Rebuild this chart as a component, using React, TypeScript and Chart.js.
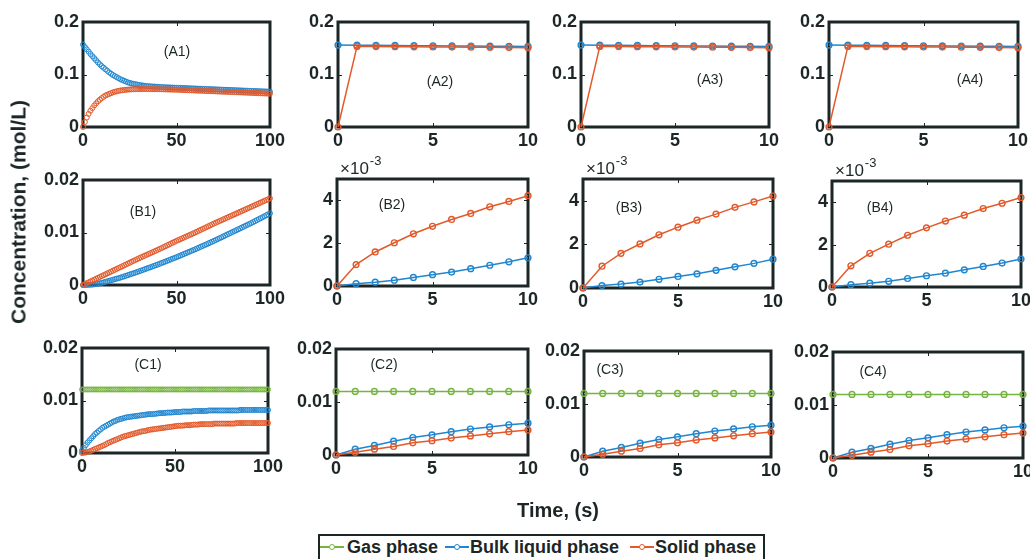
import React, { useEffect, useRef } from "react";
import { Chart, registerables } from "chart.js";
Chart.register(...registerables);

const BLUE = "#1f86cf";
const ORANGE = "#e2592a";
const GREEN = "#77b341";
const INK = "#1c2626";
const FONT = "'Liberation Sans', Arial, sans-serif";

// x values (time, s)
const T_LONG = Array.from({ length: 101 }, (_, i) => i);
const T_SHORT = [0, 1, 2, 3, 4, 5, 6, 7, 8, 9, 10];

// Row A (0-100 s)
const A1_bulk = [
  0.157,0.1525,0.148,0.1435,0.139,0.135,0.131,0.127,0.123,0.1195,0.116,
  0.113,0.110,0.107,0.104,0.1015,0.099,0.097,0.095,0.093,0.091,
  0.0895,0.088,0.0865,0.085,0.084,0.083,0.0822,0.0815,0.0808,0.080,
  0.0795,0.079,0.0785,0.078,0.0778,0.0775,0.0772,0.077,0.0768,0.0765,
  0.0762,0.076,0.0758,0.0757,0.0755,0.0754,0.0752,0.0751,0.0749,0.0748,
  0.07465,0.0745,0.07435,0.0742,0.07405,0.0739,0.07375,0.0736,0.07345,0.0733,
  0.07315,0.073,0.07285,0.0727,0.07255,0.0724,0.07225,0.0721,0.07195,0.0718,
  0.07165,0.0715,0.07135,0.0712,0.07105,0.0709,0.07075,0.0706,0.07045,0.0703,
  0.07015,0.070,0.06985,0.0697,0.06955,0.0694,0.06925,0.0691,0.06895,0.0688,
  0.06865,0.0685,0.06835,0.0682,0.06805,0.0679,0.06775,0.0676,0.06745,0.0673,
];
const A1_solid = [
  0,0.0095,0.018,0.025,0.031,0.036,0.041,0.045,0.049,0.052,0.055,
  0.0575,0.060,0.0615,0.063,0.0645,0.066,0.067,0.068,0.0688,0.0695,
  0.070,0.0705,0.0709,0.0712,0.0715,0.0717,0.0719,0.072,0.0721,0.0722,
  0.0723,0.0723,0.0723,0.0723,0.0723,0.0722,0.0722,0.0721,0.0721,0.072,
  0.0719,0.0718,0.0717,0.0716,0.0715,0.0714,0.0713,0.0712,0.0711,0.071,
  0.07085,0.0707,0.07055,0.0704,0.07025,0.0701,0.06995,0.0698,0.06965,0.0695,
  0.06935,0.0692,0.06905,0.0689,0.06875,0.0686,0.06845,0.0683,0.06815,0.068,
  0.06785,0.0677,0.06755,0.0674,0.06725,0.0671,0.06695,0.0668,0.06665,0.0665,
  0.06635,0.0662,0.06605,0.0659,0.06575,0.0656,0.06545,0.0653,0.06515,0.065,
  0.06485,0.0647,0.06455,0.0644,0.06425,0.0641,0.06395,0.0638,0.06365,0.0635,
];
// Row A (0-10 s)
const A_bulk = [0.156,0.1558,0.1555,0.1553,0.155,0.1548,0.1545,0.1543,0.154,0.1538,0.1535];
const A_solid = [0,0.1535,0.1532,0.153,0.1528,0.1525,0.1522,0.152,0.1517,0.1513,0.151];

// Row B (0-100 s)
const B1_solid = [
  0,0.00017,0.00034,0.00051,0.00068,0.00085,0.00102,0.00119,0.00136,0.00153,0.0017,
  0.00187,0.00204,0.00221,0.00238,0.00255,0.00272,0.00289,0.00306,0.00323,0.0034,
  0.00357,0.00374,0.00391,0.00408,0.00425,0.00442,0.00459,0.00476,0.00493,0.0051,
  0.00526,0.00542,0.00558,0.00574,0.0059,0.00606,0.00622,0.00638,0.00654,0.0067,
  0.00687,0.00704,0.00721,0.00738,0.00755,0.00772,0.00789,0.00806,0.00823,0.0084,
  0.00856,0.00872,0.00888,0.00904,0.0092,0.00936,0.00952,0.00968,0.00984,0.0100,
  0.01017,0.01034,0.01051,0.01068,0.01085,0.01102,0.01119,0.01136,0.01153,0.0117,
  0.01186,0.01202,0.01218,0.01234,0.0125,0.01266,0.01282,0.01298,0.01314,0.0133,
  0.01346,0.01362,0.01378,0.01394,0.0141,0.01426,0.01442,0.01458,0.01474,0.0149,
  0.01506,0.01522,0.01538,0.01554,0.0157,0.01586,0.01602,0.01618,0.01634,0.0165,
];
const B1_bulk = [
  0,0,0.00001,0.00003,0.00005,0.00008,0.00012,0.00018,0.00025,0.00032,0.0004,
  0.0005,0.0006,0.0007,0.0008,0.0009,0.001,0.0011,0.0012,0.0013,0.0014,
  0.00152,0.00164,0.00176,0.00188,0.002,0.00212,0.00224,0.00236,0.00248,0.0026,
  0.00273,0.00286,0.00299,0.00312,0.00325,0.00338,0.00351,0.00364,0.00377,0.0039,
  0.00404,0.00418,0.00432,0.00446,0.0046,0.00474,0.00488,0.00502,0.00516,0.0053,
  0.00545,0.0056,0.00575,0.0059,0.00605,0.0062,0.00635,0.0065,0.00665,0.0068,
  0.00696,0.00712,0.00728,0.00744,0.0076,0.00776,0.00792,0.00808,0.00824,0.0084,
  0.00857,0.00874,0.00891,0.00908,0.00925,0.00942,0.00959,0.00976,0.00993,0.0101,
  0.01027,0.01044,0.01061,0.01078,0.01095,0.01112,0.01129,0.01146,0.01163,0.0118,
  0.01199,0.01217,0.01236,0.01254,0.01273,0.01291,0.0131,0.01328,0.01347,0.01365,
];
// Row B (0-10 s), in units of 1e-3 mol/L
const B_solid = [0,1.0,1.59,2.02,2.44,2.79,3.11,3.39,3.7,3.95,4.22];
const B_bulk = [0,0.11,0.18,0.27,0.4,0.53,0.65,0.81,0.97,1.13,1.32];

// Row C (0-100 s)
const C1_gas = [
  0.0121,0.0121,0.0121,0.0121,0.0121,0.0121,0.0121,0.0121,0.0121,0.0121,0.0121,
  0.0121,0.0121,0.0121,0.0121,0.0121,0.0121,0.0121,0.0121,0.0121,0.0121,
  0.0121,0.0121,0.0121,0.0121,0.0121,0.0121,0.0121,0.0121,0.0121,0.0121,
  0.0121,0.0121,0.0121,0.0121,0.0121,0.0121,0.0121,0.0121,0.0121,0.0121,
  0.0121,0.0121,0.0121,0.0121,0.0121,0.0121,0.0121,0.0121,0.0121,0.0121,
  0.0121,0.0121,0.0121,0.0121,0.0121,0.0121,0.0121,0.0121,0.0121,0.0121,
  0.0121,0.0121,0.0121,0.0121,0.0121,0.0121,0.0121,0.0121,0.0121,0.0121,
  0.0121,0.0121,0.0121,0.0121,0.0121,0.0121,0.0121,0.0121,0.0121,0.0121,
  0.0121,0.0121,0.0121,0.0121,0.0121,0.0121,0.0121,0.0121,0.0121,0.0121,
  0.0121,0.0121,0.0121,0.0121,0.0121,0.0121,0.0121,0.0121,0.0121,0.0121,
];
const C1_bulk = [
  0.0005,0.001,0.0015,0.002,0.0024,0.0028,0.0032,0.0036,0.0039,0.0042,0.0045,
  0.0048,0.005,0.0052,0.0054,0.0056,0.0058,0.006,0.0061,0.0063,0.0064,
  0.0065,0.0066,0.0067,0.0068,0.00685,0.0069,0.00695,0.007,0.00705,0.0071,
  0.00715,0.0072,0.00725,0.0073,0.00735,0.0074,0.0074,0.0074,0.00745,0.0075,
  0.00755,0.0076,0.0076,0.0076,0.00765,0.0077,0.0077,0.0077,0.00775,0.0078,
  0.0078,0.0078,0.0078,0.0079,0.0079,0.0079,0.0079,0.0079,0.0079,0.008,
  0.008,0.008,0.008,0.008,0.008,0.008,0.008,0.0081,0.0081,0.0081,
  0.0081,0.0081,0.0081,0.0081,0.0081,0.0081,0.0081,0.0081,0.0081,0.0081,
  0.0081,0.0081,0.0081,0.0081,0.0082,0.0082,0.0082,0.0082,0.0082,0.0082,
  0.0082,0.0082,0.0082,0.0082,0.0082,0.0082,0.0082,0.0082,0.0082,0.0082,
];
const C1_solid = [
  0,0.00005,0.0001,0.0002,0.0003,0.00045,0.0006,0.00075,0.0009,0.00105,0.0012,
  0.00135,0.0015,0.0017,0.0019,0.00205,0.0022,0.00235,0.0025,0.00265,0.0028,
  0.00295,0.0031,0.0032,0.0033,0.0034,0.0035,0.0036,0.0037,0.0038,0.0039,
  0.004,0.0041,0.00415,0.0042,0.0043,0.0044,0.00445,0.0045,0.00455,0.0046,
  0.00465,0.0047,0.00475,0.0048,0.00485,0.0049,0.00495,0.005,0.00505,0.0051,
  0.00515,0.0052,0.0052,0.0052,0.00525,0.0053,0.0053,0.0053,0.00535,0.0054,
  0.0054,0.0054,0.00545,0.0055,0.0055,0.0055,0.0055,0.0055,0.0055,0.0055,
  0.0056,0.0056,0.0056,0.0056,0.0056,0.0056,0.0056,0.0056,0.0056,0.0056,
  0.0056,0.0056,0.0057,0.0057,0.0057,0.0057,0.0057,0.0057,0.0057,0.0057,
  0.0057,0.0057,0.0057,0.0057,0.0057,0.0057,0.0057,0.0057,0.0057,0.0057,
];
// Row C (0-10 s)
const C_gas = [0.012,0.012,0.012,0.012,0.012,0.012,0.012,0.012,0.012,0.012,0.012];
const C_bulk = [0,0.0011,0.0018,0.0026,0.0033,0.0038,0.0044,0.0049,0.0053,0.0057,0.006];
const C_solid = [0,0.0005,0.0011,0.0016,0.0023,0.0027,0.0032,0.0036,0.004,0.0044,0.0047];

const LEGEND_LABELS = ["Gas phase", "Bulk liquid phase", "Solid phase"];

const PL = 56, PT = 28, PR = 24, PB = 30;

type Series = { values: number[]; color: string };
type Panel = {
  label: string;
  box: [number, number, number, number];
  labelAt: [number, number];
  long: boolean;
  yMax: number;
  yStep: number;
  exp?: boolean;
  series: Series[];
};

const PANELS: Panel[] = [
  { label: "(A1)", box: [83, 22, 270, 127], labelAt: [177, 52], long: true, yMax: 0.2, yStep: 0.1, series: [{ values: A1_solid, color: ORANGE }, { values: A1_bulk, color: BLUE }] },
  { label: "(A2)", box: [338, 22, 528, 127], labelAt: [440, 82], long: false, yMax: 0.2, yStep: 0.1, series: [{ values: A_solid, color: ORANGE }, { values: A_bulk, color: BLUE }] },
  { label: "(A3)", box: [581, 22, 769, 127], labelAt: [710, 80], long: false, yMax: 0.2, yStep: 0.1, series: [{ values: A_solid, color: ORANGE }, { values: A_bulk, color: BLUE }] },
  { label: "(A4)", box: [829, 22, 1018, 127], labelAt: [970, 80], long: false, yMax: 0.2, yStep: 0.1, series: [{ values: A_solid, color: ORANGE }, { values: A_bulk, color: BLUE }] },
  { label: "(B1)", box: [83, 180, 270, 285], labelAt: [143, 212], long: true, yMax: 0.02, yStep: 0.01, series: [{ values: B1_solid, color: ORANGE }, { values: B1_bulk, color: BLUE }] },
  { label: "(B2)", box: [337, 179, 528, 286], labelAt: [392, 205], long: false, yMax: 5, yStep: 2, exp: true, series: [{ values: B_solid, color: ORANGE }, { values: B_bulk, color: BLUE }] },
  { label: "(B3)", box: [583, 179, 773, 288], labelAt: [629, 208], long: false, yMax: 5, yStep: 2, exp: true, series: [{ values: B_solid, color: ORANGE }, { values: B_bulk, color: BLUE }] },
  { label: "(B4)", box: [832, 181, 1021, 287], labelAt: [880, 208], long: false, yMax: 5, yStep: 2, exp: true, series: [{ values: B_solid, color: ORANGE }, { values: B_bulk, color: BLUE }] },
  { label: "(C1)", box: [82, 348, 268, 453], labelAt: [148, 365], long: true, yMax: 0.02, yStep: 0.01, series: [{ values: C1_solid, color: ORANGE }, { values: C1_bulk, color: BLUE }, { values: C1_gas, color: GREEN }] },
  { label: "(C2)", box: [336, 349, 528, 455], labelAt: [384, 365], long: false, yMax: 0.02, yStep: 0.01, series: [{ values: C_solid, color: ORANGE }, { values: C_bulk, color: BLUE }, { values: C_gas, color: GREEN }] },
  { label: "(C3)", box: [584, 351, 771, 457], labelAt: [610, 370], long: false, yMax: 0.02, yStep: 0.01, series: [{ values: C_solid, color: ORANGE }, { values: C_bulk, color: BLUE }, { values: C_gas, color: GREEN }] },
  { label: "(C4)", box: [833, 352, 1023, 458], labelAt: [873, 372], long: false, yMax: 0.02, yStep: 0.01, series: [{ values: C_solid, color: ORANGE }, { values: C_bulk, color: BLUE }, { values: C_gas, color: GREEN }] },
];

const framePlugin = {
  id: "frame",
  beforeDatasetsDraw(chart: any) {
    const { ctx, chartArea: a } = chart;
    ctx.save();
    ctx.strokeStyle = INK;
    ctx.lineWidth = 1;
    const xs = chart.scales.x, ys = chart.scales.y;
    ctx.beginPath();
    xs.ticks.forEach((t: any) => {
      const px = Math.round(xs.getPixelForValue(t.value)) + 0.5;
      ctx.moveTo(px, a.bottom); ctx.lineTo(px, a.bottom - 4);
      ctx.moveTo(px, a.top); ctx.lineTo(px, a.top + 4);
    });
    ys.ticks.forEach((t: any) => {
      const py = Math.round(ys.getPixelForValue(t.value)) + 0.5;
      ctx.moveTo(a.left, py); ctx.lineTo(a.left + 4, py);
      ctx.moveTo(a.right, py); ctx.lineTo(a.right - 4, py);
    });
    ctx.stroke();
    ctx.lineWidth = 3;
    ctx.strokeRect(a.left, a.top, a.right - a.left, a.bottom - a.top);
    ctx.restore();
  },
  afterDraw(chart: any, _args: any, opts: any) {
    const { ctx, chartArea: a } = chart;
    ctx.save();
    ctx.fillStyle = INK;
    ctx.textAlign = "center";
    ctx.textBaseline = "middle";
    ctx.font = `14px ${FONT}`;
    ctx.fillText(opts.label, opts.lx, opts.ly);
    if (opts.exp) {
      ctx.textAlign = "left";
      ctx.textBaseline = "alphabetic";
      ctx.font = `17px ${FONT}`;
      const x0 = a.left + 3, y0 = a.top - 5;
      ctx.fillText("\u00d710", x0, y0);
      const w = ctx.measureText("\u00d710").width;
      ctx.font = `13px ${FONT}`;
      ctx.fillText("-3", x0 + w + 1, y0 - 9);
    }
    ctx.restore();
  },
};

function fmt(v: number) {
  return String(Number(v.toFixed(4)));
}

function PanelChart({ p }: { p: Panel }) {
  const ref = useRef<HTMLCanvasElement | null>(null);
  const [L, T, R, B] = p.box;
  const cw = R - L + PL + PR;
  const ch = B - T + PT + PB;
  const left = L - PL;
  const top = T - PT;
  useEffect(() => {
    if (!ref.current) return;
    const xs = p.long ? T_LONG : T_SHORT;
    const tickFont = { family: FONT, size: 18, weight: "bold" as const };
    const chart = new Chart(ref.current, {
      type: "line",
      data: {
        datasets: p.series.map((s) => ({
          data: xs.map((x, i) => ({ x, y: s.values[i] })),
          borderColor: s.color,
          backgroundColor: s.color,
          pointBorderColor: s.color,
          pointBackgroundColor: "rgba(0,0,0,0)",
          showLine: !p.long,
          borderWidth: 1.5,
          pointRadius: p.long ? 2.5 : 2.9,
          pointBorderWidth: p.long ? 1 : 1.4,
          pointHoverRadius: 0,
          tension: 0,
          clip: false as any,
        })),
      },
      options: {
        responsive: false,
        animation: false,
        events: [],
        layout: { padding: { left: 0, top: PT, right: PR, bottom: 0 } },
        plugins: {
          legend: { display: false },
          tooltip: { enabled: false },
          frame: { label: p.label, lx: p.labelAt[0] - left, ly: p.labelAt[1] - top, exp: !!p.exp },
        } as any,
        scales: {
          x: {
            type: "linear",
            min: 0,
            max: p.long ? 100 : 10,
            afterFit: (s: any) => { s.height = PB; },
            grid: { display: false, drawTicks: false },
            border: { display: false },
            ticks: { stepSize: p.long ? 50 : 5, font: tickFont, color: INK, padding: 3, maxRotation: 0, autoSkip: false, includeBounds: false, callback: (v: any) => fmt(Number(v)) },
          },
          y: {
            type: "linear",
            min: 0,
            max: p.yMax,
            afterFit: (s: any) => { s.width = PL; },
            grid: { display: false, drawTicks: false },
            border: { display: false },
            ticks: { stepSize: p.yStep, font: tickFont, color: INK, padding: 4, autoSkip: false, includeBounds: false, callback: (v: any) => fmt(Number(v)) },
          },
        },
      },
      plugins: [framePlugin as any],
    });
    return () => chart.destroy();
  }, []);
  return (
    <canvas
      ref={ref}
      width={cw}
      height={ch}
      style={{ position: "absolute", left, top, width: cw, height: ch }}
    />
  );
}

function LegendItem({ x, tx, label, color }: { x: number; tx: number; label: string; color: string }) {
  return (
    <>
      <div style={{ position: "absolute", left: x, top: 546, width: 24, height: 1.5, background: color }} />
      <div style={{ position: "absolute", left: x + 9, top: 544, width: 4, height: 4, border: `1px solid ${color}`, borderRadius: "50%", background: "#fff" }} />
      <div style={{ position: "absolute", left: tx, top: 538, fontFamily: FONT, fontWeight: "bold", fontSize: 18, lineHeight: "18px", color: INK, whiteSpace: "nowrap" }}>{label}</div>
    </>
  );
}

export default function App() {
  return (
    <div style={{ position: "fixed", left: 0, top: 0, width: 1030, height: 559, overflow: "hidden", background: "#fff" }}>
      {PANELS.map((p) => <PanelChart key={p.label} p={p} />)}
      <div style={{ position: "absolute", left: 18, top: 212, transform: "translate(-50%, -50%) rotate(-90deg)", fontFamily: FONT, fontWeight: "bold", fontSize: 21, lineHeight: "21px", color: INK, whiteSpace: "nowrap" }}>
        Concentration, (mol/L)
      </div>
      <div style={{ position: "absolute", left: 558, top: 500, transform: "translateX(-50%)", fontFamily: FONT, fontWeight: "bold", fontSize: 20, lineHeight: "20px", color: INK, whiteSpace: "nowrap" }}>
        Time, (s)
      </div>
      <div style={{ position: "absolute", left: 318, top: 534, width: 443, height: 30, border: `2px solid ${INK}`, background: "#fff" }} />
      <LegendItem x={320} tx={347} label={LEGEND_LABELS[0]} color={GREEN} />
      <LegendItem x={445} tx={470} label={LEGEND_LABELS[1]} color={BLUE} />
      <LegendItem x={630} tx={655} label={LEGEND_LABELS[2]} color={ORANGE} />
    </div>
  );
}
